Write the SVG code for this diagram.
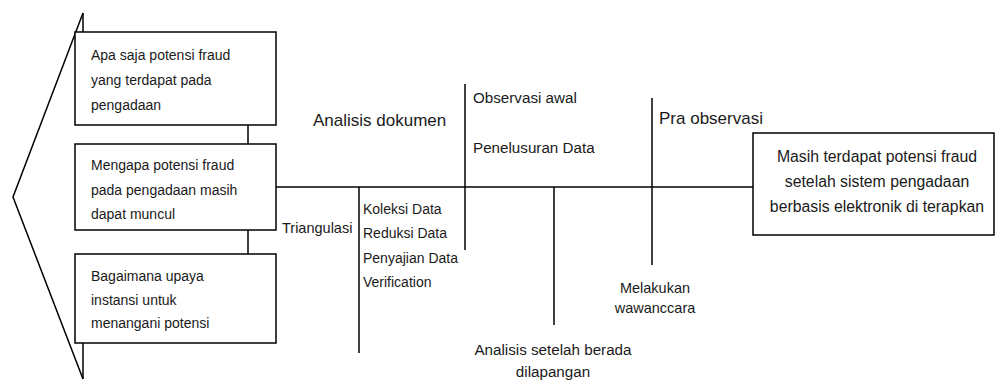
<svg xmlns="http://www.w3.org/2000/svg" width="997" height="382" viewBox="0 0 997 382">
<style>
.ln{stroke:#000;stroke-width:1.5;fill:none}
.bx{stroke:#000;stroke-width:1.5;fill:#fff}
text{font-family:"Liberation Sans",Arial,sans-serif;font-size:14px;fill:#1a1a1a}
.big{font-size:17px}
.m{font-size:15.2px}
.r{font-size:15.8px}
.c{text-anchor:middle}
</style>
<g id="connectors">
<polyline class="ln" points="83,13 13,197 83,379"/>
<line class="ln" x1="83" y1="13" x2="83" y2="32"/>
<line class="ln" x1="83" y1="343" x2="83" y2="379"/>
<line class="ln" x1="248" y1="125" x2="248" y2="144"/>
<line class="ln" x1="248" y1="230" x2="248" y2="254"/>
<line class="ln" x1="276" y1="187" x2="753" y2="187"/>
<line class="ln" x1="359" y1="187" x2="359" y2="353"/>
<line class="ln" x1="465" y1="84" x2="465" y2="250"/>
<line class="ln" x1="554" y1="187" x2="554" y2="325"/>
<line class="ln" x1="652" y1="98" x2="652" y2="265"/>
</g>
<g id="box1">
<rect class="bx" x="75" y="32" width="201" height="93"/>
<text x="91" y="60">Apa saja potensi fraud</text>
<text x="91" y="85">yang terdapat pada</text>
<text x="91" y="110">pengadaan</text>
</g>
<g id="box2">
<rect class="bx" x="75" y="144" width="201" height="86"/>
<text x="91" y="170">Mengapa potensi fraud</text>
<text x="91" y="195">pada pengadaan masih</text>
<text x="91" y="219">dapat muncul</text>
</g>
<g id="box3">
<rect class="bx" x="75" y="254" width="201" height="89"/>
<text x="91" y="281">Bagaimana upaya</text>
<text x="91" y="305">instansi untuk</text>
<text x="91" y="328">menangani potensi</text>
</g>
<g id="box4">
<rect class="bx" x="753" y="133" width="241" height="102"/>
<text class="c r" x="877" y="162">Masih terdapat potensi fraud</text>
<text class="c r" x="877" y="187">setelah sistem pengadaan</text>
<text class="c r" x="877" y="212">berbasis elektronik di terapkan</text>
</g>
<g id="labels">
<text class="big" x="313" y="126">Analisis dokumen</text>
<text x="282" y="233" style="font-size:14.5px">Triangulasi</text>
<text x="363" y="214">Koleksi Data</text>
<text x="363" y="238">Reduksi Data</text>
<text x="363" y="263">Penyajian Data</text>
<text x="363" y="287">Verification</text>
<text class="m" x="473" y="103">Observasi awal</text>
<text class="m" x="473" y="153">Penelusuran Data</text>
<text class="c m" x="553" y="355">Analisis setelah berada</text>
<text class="c m" x="553" y="377">dilapangan</text>
<text class="big" x="659" y="124">Pra observasi</text>
<text class="c" x="655" y="293" style="font-size:14.5px">Melakukan</text>
<text class="c" x="655" y="313" style="font-size:14.5px">wawanccara</text>
</g>
</svg>
